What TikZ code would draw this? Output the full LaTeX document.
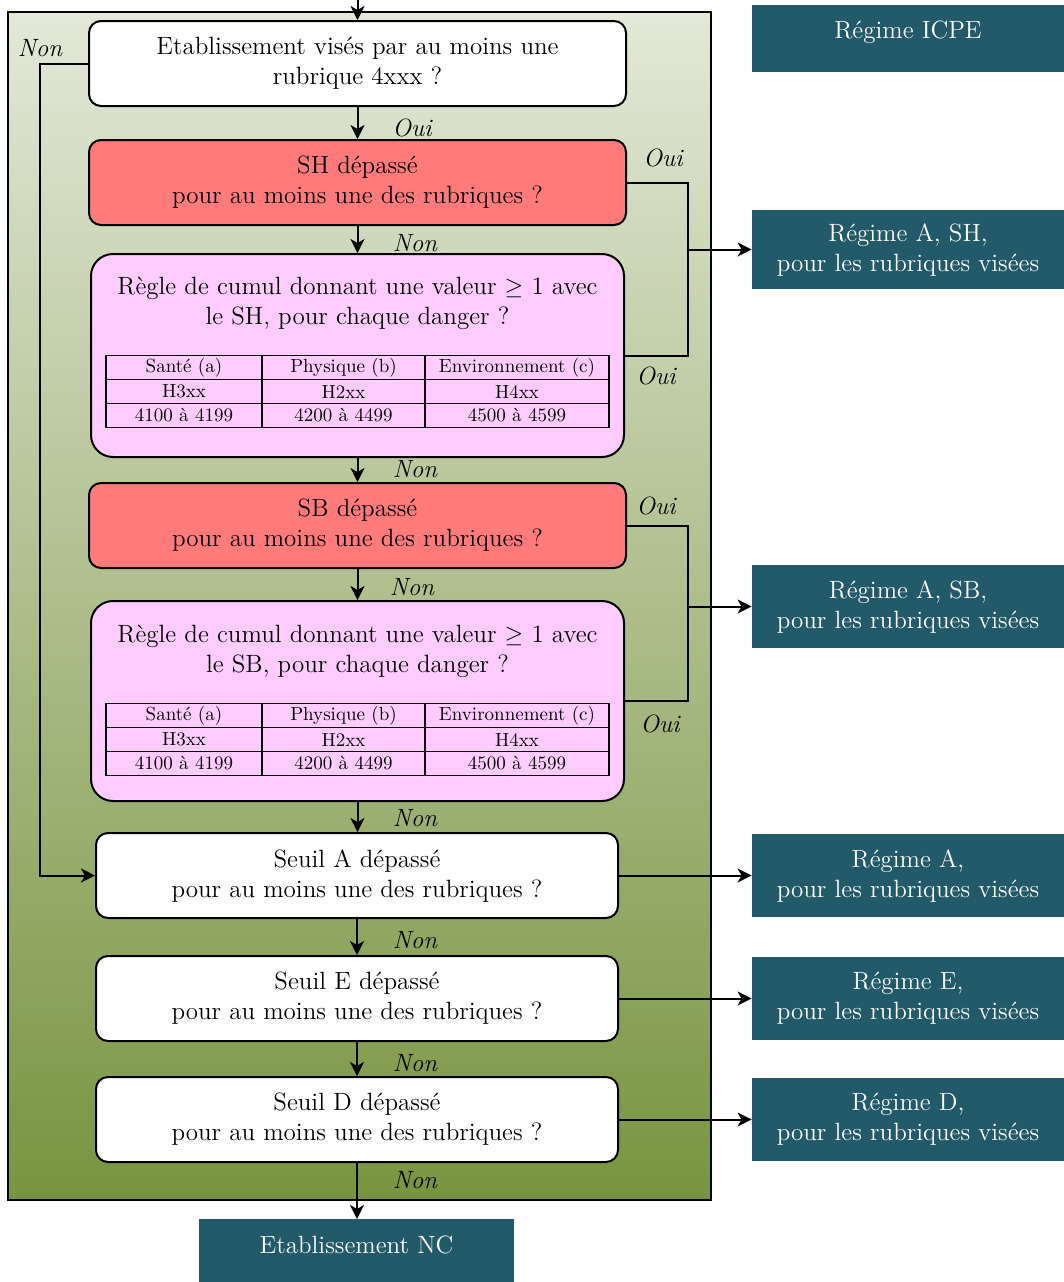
\documentclass[tikz,border=0pt]{standalone}
\usetikzlibrary{arrows.meta,matrix}
\definecolor{regbg}{HTML}{225A69}
\definecolor{sred}{HTML}{FF7B7B}
\definecolor{spink}{HTML}{FFCCFF}
\definecolor{gtop}{HTML}{E3E8D8}
\definecolor{gmid}{HTML}{B8C69F}
\definecolor{gbot}{HTML}{789440}
\newcommand\qfnt{\fontsize{12.5}{15}\selectfont}
\newcommand\tabfnt{\fontsize{9.5}{11}\selectfont}
\tikzset{
  q/.style={draw=black, line width=1pt, rounded corners=6pt, align=center,
    font=\qfnt, inner sep=0pt, minimum height=42.5pt},
  wq/.style={q, fill=white, minimum width=261pt},
  rq/.style={q, fill=sred, minimum width=268.5pt},
  pq/.style={draw=black, line width=1pt, rounded corners=11pt, fill=spink,
    minimum width=266.5pt, inner sep=0pt},
  reg/.style={fill=regbg, text=white, align=center, font=\qfnt,
    minimum width=156pt, inner sep=0pt},
  lbl/.style={font=\qfnt\itshape, inner sep=0pt},
  txt/.style={font=\qfnt, align=center, inner sep=0pt},
  arr/.style={line width=1pt, -{Stealth[length=7pt,width=7pt,inset=2pt]}},
  ln/.style={line width=1pt},
  tbl/.style={matrix of nodes, column sep=-0.9pt, row sep=-0.9pt,
    nodes={draw, line width=0.9pt, minimum height=12pt, inner sep=0pt,
      anchor=center, font=\tabfnt},
    column 1/.style={nodes={minimum width=78pt}},
    column 2/.style={nodes={minimum width=81.5pt}},
    column 3/.style={nodes={minimum width=92pt}}}
}
\begin{document}
\begin{tikzpicture}[x=0.5pt,y=-0.5pt]
\useasboundingbox (0,0) rectangle (1064,1282);
% frame
\fill[top color=gtop, middle color=gmid, bottom color=gbot] (8,12) rectangle (711,1200);
\draw[line width=1pt] (8,12) rectangle (711,1200);
% left column
\node[q, fill=white, minimum width=268.5pt] (b1) at (357.5,63.5)
  {Etablissement visés par au moins une\\rubrique 4xxx ?};
\node[rq] (b2) at (357.5,182.5) {SH dépassé\\pour au moins une des rubriques ?};
\node[pq, minimum height=101.5pt] (b3) at (357.5,355.5) {};
\node[txt] (b3t) at (357.5,303) {Règle de cumul donnant une valeur $\geq$ 1 avec\\le SH, pour chaque danger ?};
\matrix[tbl] (t1) at (357.5,391.5) {
  Santé (a) & Physique (b) & Environnement (c)\\
  H3xx & H2xx & H4xx\\
  4100 à 4199 & 4200 à 4499 & 4500 à 4599\\
};
\node[rq] (b4) at (357.5,525.5) {SB dépassé\\pour au moins une des rubriques ?};
\node[pq, minimum height=100pt] (b5) at (357.5,701) {};
\node[txt] (b5t) at (357.5,651) {Règle de cumul donnant une valeur $\geq$ 1 avec\\le SB, pour chaque danger ?};
\matrix[tbl] (t2) at (357.5,739.5) {
  Santé (a) & Physique (b) & Environnement (c)\\
  H3xx & H2xx & H4xx\\
  4100 à 4199 & 4200 à 4499 & 4500 à 4599\\
};
\node[wq] (b6) at (357,875.5) {Seuil A dépassé\\pour au moins une des rubriques ?};
\node[wq] (b7) at (357,998.5) {Seuil E dépassé\\pour au moins une des rubriques ?};
\node[wq] (b8) at (357,1119.5) {Seuil D dépassé\\pour au moins une des rubriques ?};
\node[reg, align=none, anchor=north, minimum width=157.5pt, text height=17pt, text depth=17pt] (nc) at (356.5,1219) {Etablissement NC};
% right column
\node[reg, align=none, anchor=north, text height=16.75pt, text depth=16.75pt] (icpe) at (908,5) {Régime ICPE};
\node[reg, minimum height=39.5pt] (rsh) at (908,249.5) {Régime A, SH,\\pour les rubriques visées};
\node[reg, minimum height=41.5pt] (rsb) at (908,606.5) {Régime A, SB,\\pour les rubriques visées};
\node[reg, minimum height=41.5pt] (ra) at (908,875.5) {Régime A,\\pour les rubriques visées};
\node[reg, minimum height=41.5pt] (re) at (908,998.5) {Régime E,\\pour les rubriques visées};
\node[reg, minimum height=41.5pt] (rd) at (908,1119.5) {Régime D,\\pour les rubriques visées};
% connectors
\coordinate (top) at (357.5,0);
\coordinate (jsh) at (688,249.5);
\coordinate (jsb) at (688,606.5);
\coordinate (jn) at (40,875.5);
\draw[arr] (top) -- (b1);
\draw[arr] (b1) -- (b2);
\draw[arr] (b2) -- (b3);
\draw[arr] (b3) -- (b4);
\draw[arr] (b4) -- (b5);
\draw[arr] (b5.south) -- (b6.north -| b5.south);
\draw[arr] (b6) -- (b7);
\draw[arr] (b7) -- (b8);
\draw[arr] (b8) -- (b8.south |- nc.north);
\draw[ln] (b2.east) -| (jsh) |- (b3.east);
\draw[arr] (jsh) -- (rsh);
\draw[ln] (b4.east) -| (jsb) |- (b5.east);
\draw[arr] (jsb) -- (rsb);
\draw[arr] (b1.west) -| (jn) -- (b6.west);
\draw[arr] (b6) -- (ra);
\draw[arr] (b7) -- (re);
\draw[arr] (b8) -- (rd);
% labels
\node[lbl] (l0) at (40,48) {Non};
\node[lbl] (l1) at (412,128) {Oui};
\node[lbl] (l2) at (663,158) {Oui};
\node[lbl] (l3) at (415,243) {Non};
\node[lbl] (l4) at (656,376) {Oui};
\node[lbl] (l5) at (415,469) {Non};
\node[lbl] (l6) at (656,506) {Oui};
\node[lbl] (l7) at (412,587) {Non};
\node[lbl] (l8) at (660,724) {Oui};
\node[lbl] (l9) at (415,818) {Non};
\node[lbl] (l10) at (415,940) {Non};
\node[lbl] (l11) at (415,1063) {Non};
\node[lbl] (l12) at (415,1180) {Non};
\end{tikzpicture}
\end{document}
